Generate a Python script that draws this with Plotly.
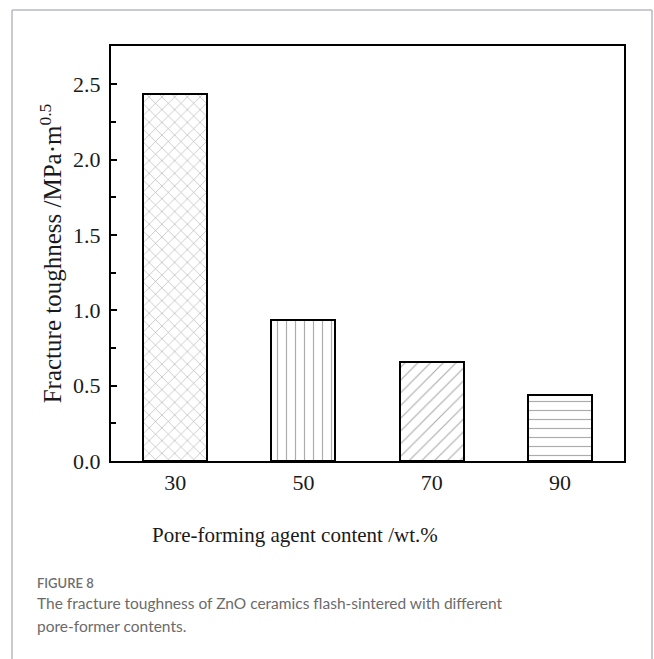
import plotly.graph_objects as go

# ---- data ----
contents = [30, 50, 70, 90]            # pore-forming agent content, wt.%
toughness = [2.435, 0.934, 0.655, 0.438]  # MPa·m^0.5
patterns = ["x", "|", "/", "-"]
tick_labels = ["30", "50", "70", "90"]

W, H = 654, 659
L, R, T, B = 111, 30, 46, 198
pw, ph = W - L - R, H - T - B

def px(x):
    return (x - L) / pw

def py(y):
    return (H - B - y) / ph

fig = go.Figure()
fig.add_trace(go.Bar(
    x=contents, y=toughness, width=10,
    marker=dict(
        color="white",
        line=dict(color="black", width=2),
        pattern=dict(shape=patterns, fgcolor="#5a5a5a", bgcolor="white",
                     size=9, solidity=0.13, fillmode="overlay"),
    ),
    showlegend=False,
))

serif = "Liberation Serif, Times New Roman, serif"

fig.update_layout(
    width=W, height=H,
    margin=dict(l=L, r=R, t=T, b=B),
    paper_bgcolor="white", plot_bgcolor="white",
    font=dict(family=serif, color="#1a1a1a"),
    bargap=0,
)
fig.update_xaxes(
    range=[20, 100], tickvals=contents, ticktext=tick_labels,
    showline=True, mirror=True, linecolor="black", linewidth=2,
    showgrid=False, zeroline=False, ticks="",
    tickfont=dict(family=serif, size=22, color="#1a1a1a"),
    ticklabelstandoff=1,
)
fig.update_yaxes(
    range=[0, 2.755], dtick=0.5, tick0=0, tickformat=".1f",
    showline=True, mirror=True, linecolor="black", linewidth=2,
    showgrid=False, zeroline=False,
    ticks="inside", ticklen=6, tickwidth=2, tickcolor="black",
    minor=dict(dtick=0.25, ticks="inside", ticklen=5, tickwidth=2, tickcolor="black"),
    tickfont=dict(family=serif, size=22, color="#1a1a1a"),
    ticklabelstandoff=4,
    title=dict(text="Fracture toughness /MPa·m<sup>0.5</sup>",
               font=dict(family=serif, size=25, color="#1a1a1a"), standoff=4),
)

# x axis title (offset left, as in the original)
fig.add_annotation(text="Pore-forming agent content /wt.%", xref="paper", yref="paper",
                   x=px(294.5), y=py(535), xanchor="center", yanchor="middle",
                   showarrow=False, font=dict(family=serif, size=21, color="#1a1a1a"))

# caption
fig.add_annotation(text="FIGURE 8", xref="paper", yref="paper",
                   x=px(35), y=py(583), xanchor="left", yanchor="middle",
                   showarrow=False, font=dict(family="Lato", size=13, color="#6e6e6e", weight=600))
fig.add_annotation(text="The fracture toughness of ZnO ceramics flash-sintered with different",
                   xref="paper", yref="paper", x=px(35), y=py(603), xanchor="left", yanchor="middle",
                   showarrow=False, font=dict(family="Lato", size=15.5, color="#6b6b6b"))
fig.add_annotation(text="pore-former contents.",
                   xref="paper", yref="paper", x=px(35), y=py(626), xanchor="left", yanchor="middle",
                   showarrow=False, font=dict(family="Lato", size=15.5, color="#6b6b6b"))

# outer frame (open at the bottom)
bc = "#b9b9c4"
for x0, y0, x1, y1 in [(12, 10, 12, 700), (12, 10, 652, 10), (652, 10, 652, 700)]:
    fig.add_shape(type="line", xref="paper", yref="paper",
                  x0=px(x0), y0=py(y0), x1=px(x1), y1=py(y1),
                  line=dict(color=bc, width=1.5), layer="above")

fig.write_html("out.html")
